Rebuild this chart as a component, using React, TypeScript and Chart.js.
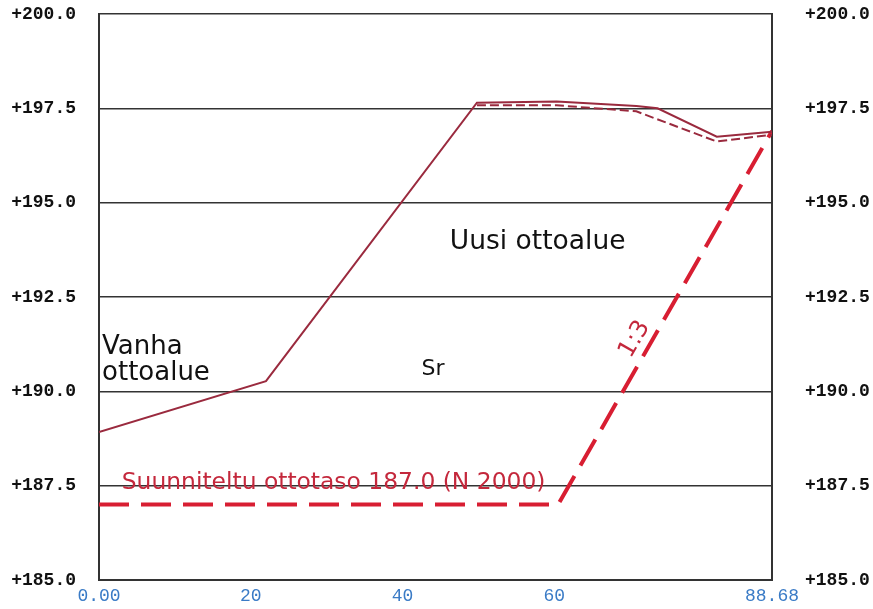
import React, { useEffect, useRef } from "react";
import { Chart, registerables } from "chart.js";

Chart.register(...registerables);

// Axis ticks
const xTicks = [0, 20, 40, 60, 88.68];
const yTicks = [185, 187.5, 190, 192.5, 195, 197.5, 200];

// Existing ground surface (solid)
const groundX = [0, 22, 49.8, 60.3, 70.8, 73.6, 81.4, 88.68];
const groundY = [188.92, 190.27, 197.65, 197.68, 197.56, 197.5, 196.75, 196.88];

// Surveyed surface (thin dashed)
const surveyX = [49.8, 60.3, 70.8, 81.4, 88.68];
const surveyY = [197.58, 197.58, 197.42, 196.62, 196.8];

// Planned excavation level (thick dashed)
const planX = [0, 60.5, 88.68];
const planY = [187.0, 187.0, 196.9];

// Text labels (anchored in data units)
const labelTexts = ["Uusi ottoalue", "Vanha", "ottoalue", "Sr", "Suunniteltu ottotaso 187.0 (N 2000)", "1:3"];
const labelX = [57.8, 0.4, 0.4, 42.5, 3.0, 70.6];
const labelY = [193.96, 191.18, 190.48, 190.58, 187.58, 191.38];

const toPts = (xs: number[], ys: number[]) => xs.map((x, i) => ({ x, y: ys[i] }));

const fmtX = (v: number) => (v === 0 ? "0.00" : v % 1 === 0 ? String(v) : v.toFixed(2));

export default function App() {
  const ref = useRef<HTMLCanvasElement>(null);

  useEffect(() => {
    const canvas = ref.current;
    if (!canvas) return;

    const labelPlugin = {
      id: "labels",
      afterDatasetsDraw(chart: any) {
        const { ctx, scales } = chart;
        const sx = scales.x;
        const sy = scales.y;
        const styles = [
          { font: "26.5px 'DejaVu Sans'", color: "#111", align: "center", rot: 0 },
          { font: "26px 'DejaVu Sans'", color: "#111", align: "left", rot: 0 },
          { font: "26px 'DejaVu Sans'", color: "#111", align: "left", rot: 0 },
          { font: "22px 'DejaVu Sans'", color: "#111", align: "left", rot: 0 },
          { font: "23.4px 'DejaVu Sans'", color: "#c4283c", align: "left", rot: 0 },
          { font: "24px 'DejaVu Sans'", color: "#c4283c", align: "center", rot: -60 },
        ];
        ctx.save();
        labelTexts.forEach((t, i) => {
          const st = styles[i];
          const px = sx.getPixelForValue(labelX[i]);
          const py = sy.getPixelForValue(labelY[i]);
          ctx.save();
          ctx.translate(px, py);
          ctx.rotate((st.rot * Math.PI) / 180);
          ctx.font = st.font;
          ctx.fillStyle = st.color;
          ctx.textAlign = st.align as CanvasTextAlign;
          ctx.textBaseline = "middle";
          ctx.fillText(t, 0, 0);
          ctx.restore();
        });
        ctx.restore();
      },
    };

    const noPad = (s: any) => {
      s.paddingTop = 0;
      s.paddingBottom = 0;
      s.paddingLeft = 0;
      s.paddingRight = 0;
    };

    const chart = new Chart(canvas, {
      type: "line",
      data: {
        datasets: [
          {
            data: toPts(surveyX, surveyY),
            borderColor: "#9a2a3e",
            borderWidth: 2,
            borderDash: [9, 4],
            pointRadius: 0,
            fill: false,
            tension: 0,
          },
          {
            data: toPts(groundX, groundY),
            borderColor: "#9a2a3e",
            borderWidth: 2,
            pointRadius: 0,
            fill: false,
            tension: 0,
          },
          {
            data: toPts(planX, planY),
            borderColor: "#d81e32",
            borderWidth: 4,
            borderDash: [30, 12],
            pointRadius: 0,
            fill: false,
            tension: 0,
          },
        ],
      },
      options: {
        animation: false,
        responsive: false,
        maintainAspectRatio: false,
        layout: { padding: { top: 14, left: 0, right: 0, bottom: 0 } },
        plugins: { legend: { display: false }, tooltip: { enabled: false } },
        scales: {
          x: {
            type: "linear",
            min: 0,
            max: 88.68,
            afterBuildTicks: (s: any) => {
              s.ticks = xTicks.map((v) => ({ value: v }));
            },
            afterFit: (s: any) => {
              s.height = 29;
              noPad(s);
            },
            grid: { display: false, drawTicks: false },
            border: { display: true, color: "#333", width: 2 },
            ticks: {
              color: "#3a7bc6",
              font: { family: "'Liberation Mono'", size: 18 },
              padding: 5,
              maxRotation: 0,
              autoSkip: false,
              callback: (v: any) => fmtX(Number(v)),
            },
          },
          y: {
            position: "left",
            min: 185,
            max: 200,
            afterBuildTicks: (s: any) => {
              s.ticks = yTicks.map((v) => ({ value: v }));
            },
            afterFit: (s: any) => {
              s.width = 99;
              noPad(s);
            },
            grid: { color: "#333", lineWidth: 1.5, drawTicks: false },
            border: { display: true, color: "#333", width: 2 },
            ticks: {
              color: "#111",
              font: { family: "'Liberation Mono'", size: 18, weight: "bold" },
              padding: 23,
              autoSkip: false,
              callback: (v: any) => "+" + Number(v).toFixed(1),
            },
          },
          y2: {
            position: "right",
            min: 185,
            max: 200,
            afterBuildTicks: (s: any) => {
              s.ticks = yTicks.map((v) => ({ value: v }));
            },
            afterFit: (s: any) => {
              s.width = 101;
              noPad(s);
            },
            grid: { display: false, drawTicks: false },
            border: { display: true, color: "#333", width: 2 },
            ticks: {
              color: "#111",
              font: { family: "'Liberation Mono'", size: 18, weight: "bold" },
              padding: 33,
              autoSkip: false,
              callback: (v: any) => "+" + Number(v).toFixed(1),
            },
          },
        },
      },
      plugins: [labelPlugin],
    } as any);

    return () => chart.destroy();
  }, []);

  return (
    <div style={{ position: "absolute", left: 0, top: 0, width: 873, height: 609, background: "#fff" }}>
      <canvas ref={ref} width={873} height={609} style={{ display: "block", width: 873, height: 609 }} />
    </div>
  );
}
